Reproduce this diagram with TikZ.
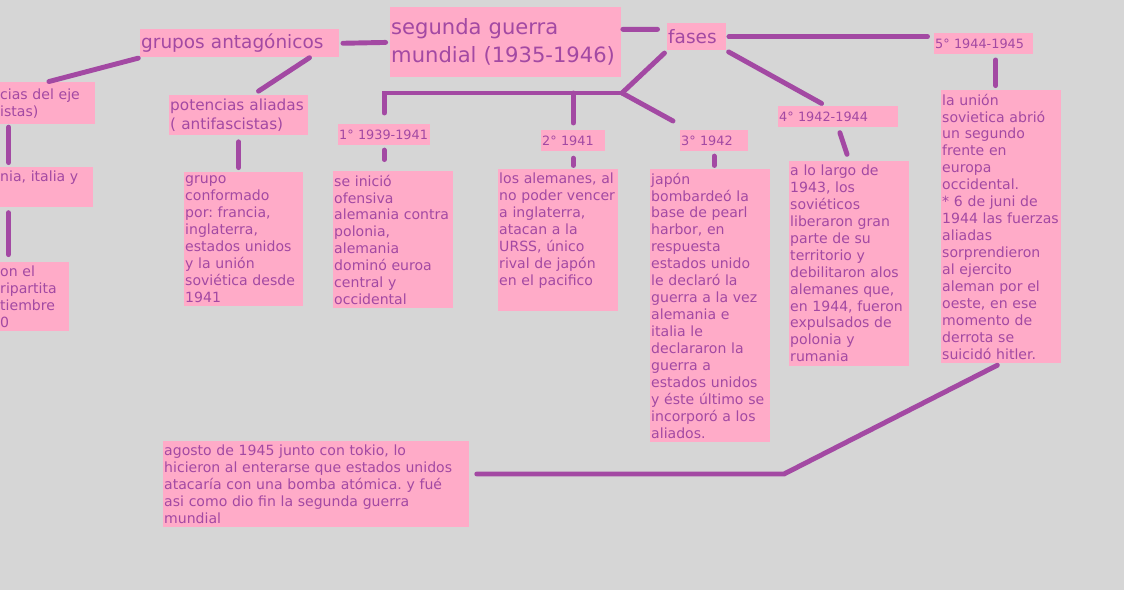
\documentclass[tikz,border=0pt]{standalone}
\usepackage{fontspec}
\setmainfont{DejaVu Sans}
\usetikzlibrary{calc}
\frenchspacing
\definecolor{fondo}{RGB}{214,214,214}
\definecolor{rosa}{RGB}{255,171,200}
\definecolor{morado}{RGB}{163,73,163}
\tikzset{
  caja/.style={fill=rosa, text=morado, anchor=north west, align=left, inner xsep=0.5pt, inner ysep=2pt, font=\fontsize{8}{9.64}\selectfont},
  etiqueta/.style={caja, minimum height=0.42cm, font=\fontsize{7.3}{8.8}\selectfont},
  cajagrande/.style={caja, font=\fontsize{10.5}{12.6}\selectfont},
  titulocaja/.style={caja, minimum height=1.4cm, font=\fontsize{12}{15.9}\selectfont},
  enlace/.style={draw=morado, line width=2.8pt, line cap=round}
}

\begin{document}
\begin{tikzpicture}[x=0.02cm,y=-0.02cm]
\useasboundingbox (0,0) rectangle (1124,590);
\fill[fondo] (0,0) rectangle (1124,590);
\clip (0,0) rectangle (1124,590);

% centro y fases
\node[titulocaja, text width=4.58cm] (titulo) at (390,7) {segunda guerra\\mundial (1935-1946)};
\node[cajagrande, text width=3.94cm, minimum height=0.56cm] (grupos) at (140,29) {grupos antagónicos};
\node[cajagrande, text width=1.14cm, minimum height=0.54cm] (fases) at (667,23) {fases};

% grupos antagonicos
\node[caja, text width=1.88cm, minimum height=0.84cm] (eje) at (-1,82) {cias del eje\\istas)};
\node[caja, text width=1.84cm, minimum height=0.76cm] (eje2) at (-1,167) {nia, italia y\\ \strut};
\node[caja, text width=1.36cm] (eje3) at (-1,262) {on el\\ripartita\\tiembre\\0};
\node[caja, text width=2.74cm, font=\fontsize{8.7}{10.8}\selectfont] (aliadas) at (169,95) {potencias aliadas\\( antifascistas)};
\node[caja, text width=2.34cm] (grupo) at (184,172) {grupo\\conformado\\por: francia,\\inglaterra,\\estados unidos\\y la unión\\soviética desde\\1941};

% fases
\node[etiqueta, text width=1.80cm] (primero) at (338,124) {1° 1939-1941};
\node[etiqueta, text width=1.24cm] (segundo) at (541,130) {2° 1941};
\node[etiqueta, text width=1.32cm] (tercero) at (680,130) {3° 1942};
\node[etiqueta, text width=2.36cm] (cuarto) at (778,106) {4° 1942-1944};
\node[etiqueta, text width=1.94cm] (cinco) at (934,33) {5° 1944-1945};

\node[caja, text width=2.36cm] (texto1) at (333,171) {se inició\\ofensiva\\alemania contra\\polonia,\\alemania\\dominó euroa\\central y\\occidental};
\node[caja, text width=2.36cm] (texto2) at (498,169) {los alemanes, al\\no poder vencer\\a inglaterra,\\atacan a la\\URSS, único\\rival de japón\\en el pacifico\\ \strut};
\node[caja, text width=2.36cm] (texto3) at (650,169) {japón\\bombardeó la\\base de pearl\\harbor, en\\respuesta\\estados unido\\le declaró la\\guerra a la vez\\alemania e\\italia le\\declararon la\\guerra a\\estados unidos\\y éste último se\\incorporó a los\\aliados.};
\node[caja, text width=2.36cm] (texto4) at (789,161) {a lo largo de\\1943, los\\soviéticos\\liberaron gran\\parte de su\\territorio y\\debilitaron alos\\alemanes que,\\en 1944, fueron\\expulsados de\\polonia y\\rumania};
\node[caja, text width=2.36cm] (texto5) at (941,90) {la unión\\sovietica abrió\\un segundo\\frente en\\europa\\occidental.\\{*} 6 de juni de\\1944 las fuerzas\\aliadas\\sorprendieron\\al ejercito\\aleman por el\\oeste, en ese\\momento de\\derrota se\\suicidó hitler.};
\node[caja, text width=6.08cm] (final) at (163,441) {agosto de 1945 junto con tokio, lo\\hicieron al enterarse que estados unidos\\atacaría con una bomba atómica. y fué\\asi como dio fin la segunda guerra\\mundial};

\coordinate (nudo) at (622,93);
\coordinate (codo) at (784,474);
\coordinate (ejepie) at ($(eje.south west)!0.1!(eje.south east)$);
\coordinate (eje2pie) at ($(eje2.south west)!0.1!(eje2.south east)$);
\coordinate (cincopie) at ($(cinco.south west)!0.62!(cinco.south east)$);

% conectores
\draw[enlace, shorten <=2pt, shorten >=2.5pt] (grupos.east) -- (titulo.west);
\draw[enlace, shorten <=0.8pt, shorten >=5.4pt] ([yshift=0.26cm]titulo.east) -- ([yshift=0.15cm]fases.west);
\draw[enlace, shorten <=1.4pt, shorten >=3.7pt] (fases.east) -- (cinco.west |- fases.east);
\draw[enlace, shorten <=2pt] (fases.south west) -- (nudo);
\draw[enlace] (nudo) -| ([yshift=0.22cm]primero.north);
\draw[enlace] (segundo.north |- nudo) -- ([yshift=0.14cm]segundo.north);
\draw[enlace] (nudo) -- ([xshift=-0.14cm,yshift=0.18cm]tercero.north west);
\draw[enlace, shorten <=1.4pt, shorten >=3pt] (fases.south east) -- ($(cuarto.north west)!0.4!(cuarto.north east)$);
\draw[enlace, shorten <=2.5pt, shorten >=6.5pt] (primero.south) -- (primero.south |- texto1.north);
\draw[enlace, shorten <=3.7pt, shorten >=2pt] (segundo.south) -- (segundo.south |- texto2.north);
\draw[enlace, shorten <=2.5pt, shorten >=2pt] (tercero.south) -- (tercero.south |- texto3.north);
\draw[enlace, shorten <=3pt, shorten >=4pt] (cuarto.south) -- (texto4.north);
\draw[enlace, shorten <=3pt, shorten >=2.5pt] (cincopie) -- (cincopie |- texto5.north);
\draw[enlace, shorten <=2.5pt, shorten >=4.2pt] (texto5.south) -- (codo) -- (final.east |- codo);
\draw[enlace, shorten <=1pt, shorten >=1pt] (grupos.south west) -- (eje.north);
\draw[enlace, shorten >=4pt] ($(grupos.south west)!0.85!(grupos.south east)$) -- ($(aliadas.north west)!0.6!(aliadas.north east)$);
\draw[enlace, shorten <=3.7pt, shorten >=2.5pt] (aliadas.south) -- (aliadas.south |- grupo.north);
\draw[enlace, shorten <=1.4pt, shorten >=2.5pt] (ejepie) -- (ejepie |- eje2.north);
\draw[enlace, shorten <=3pt, shorten >=4.2pt] (eje2pie) -- (eje2pie |- eje3.north);
\end{tikzpicture}
\end{document}
